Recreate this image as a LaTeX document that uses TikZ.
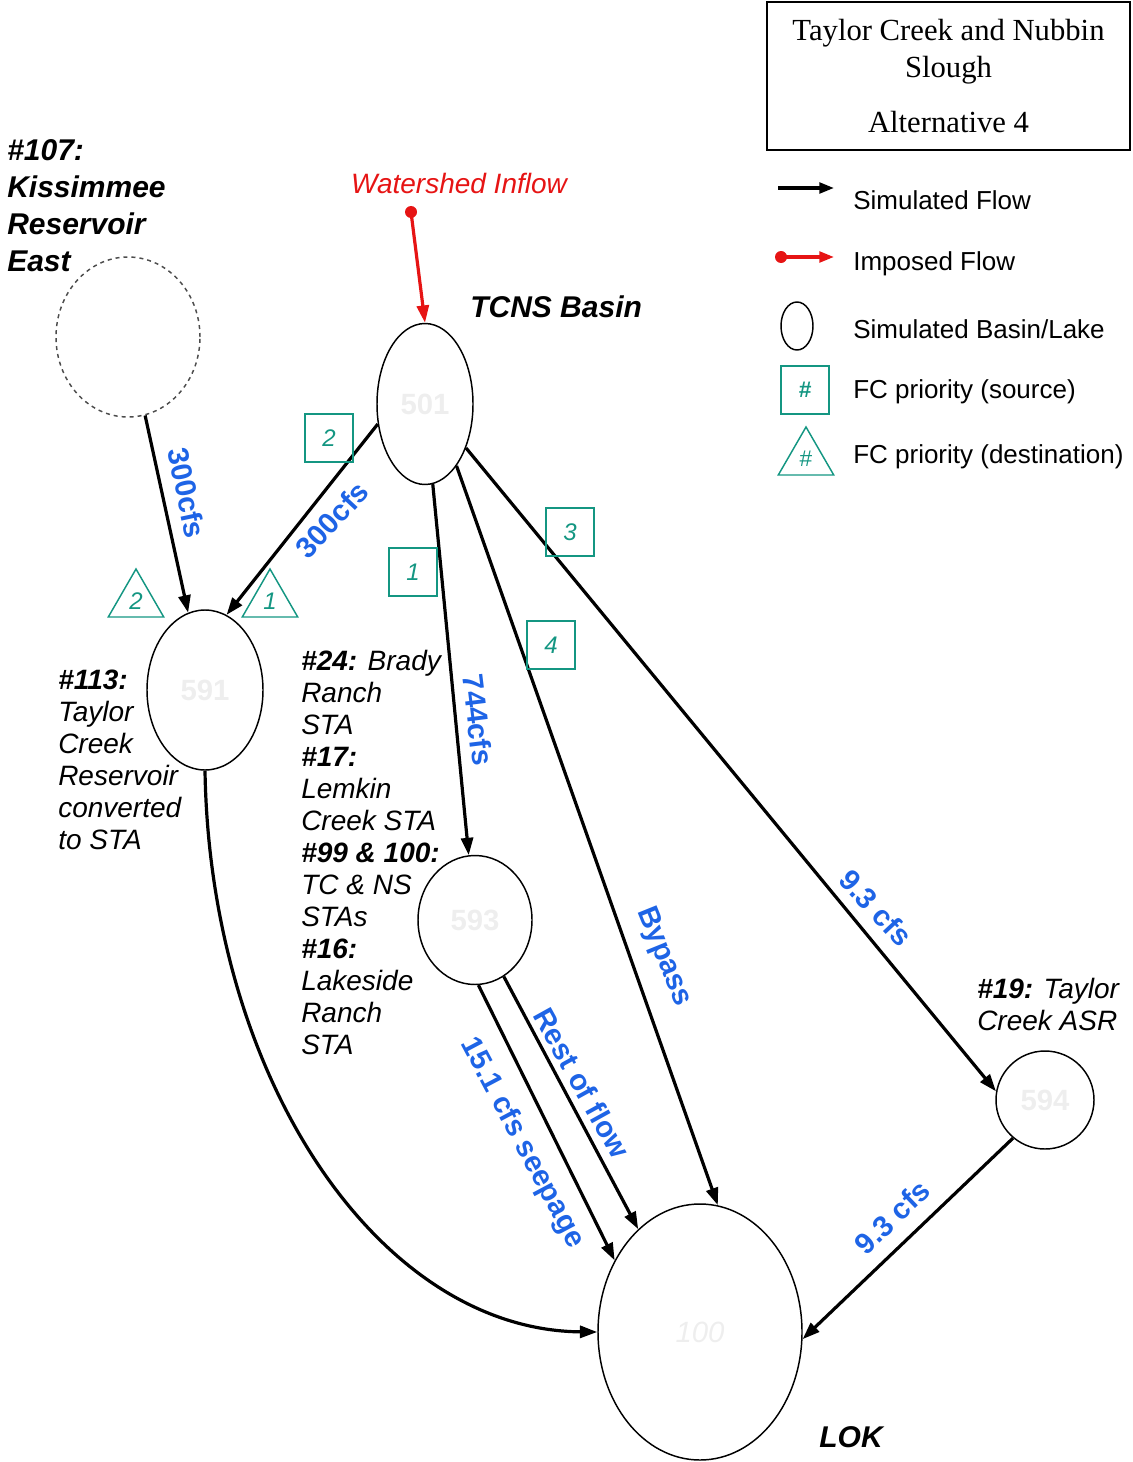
\documentclass[tikz,border=0pt]{standalone}
\usepackage{fontspec}
\setmainfont{Liberation Sans}
\newfontfamily\titlefont{Liberation Serif}
\usetikzlibrary{arrows.meta,shapes.geometric}
\definecolor{flowblue}{RGB}{30,100,230}
\definecolor{fcteal}{RGB}{20,150,130}
\definecolor{inred}{RGB}{230,20,20}
\definecolor{idgray}{RGB}{238,238,238}

\begin{document}
\begin{tikzpicture}[x=0.75pt, y=-0.75pt,
  basin/.style={draw, ellipse, line width=1.1pt, inner sep=0pt, font=\fontsize{22}{22}\selectfont\bfseries, text=idgray},
  flow/.style={line width=2.4pt, -{Triangle[length=13pt,width=9pt]}},
  imposed/.style={flow, draw=inred, fill=inred},
  inflowdot/.style={circle, fill=inred, minimum size=7pt, inner sep=0pt},
  flowlbl/.style={font=\fontsize{22}{22}\selectfont\bfseries, text=flowblue, inner sep=1pt},
  fcsrc/.style={draw=fcteal, line width=1.1pt, minimum size=36pt, inner sep=0pt, font=\fontsize{18}{18}\selectfont\itshape, text=fcteal},
  fcdst/.style={draw=fcteal, regular polygon, regular polygon sides=3, line width=1.1pt, minimum size=48pt, inner sep=0pt, font=\fontsize{18}{18}\selectfont\itshape, text=fcteal},
  site/.style={font=\fontsize{21}{24}\selectfont\itshape, align=left, anchor=north west, inner sep=0pt},
  legtxt/.style={font=\fontsize{19.5}{19.5}\selectfont, anchor=west, inner sep=0pt}]
  \useasboundingbox (0,0) rectangle (1132,1462);

  % title and legend
  \node[draw, line width=1pt, minimum width=272.25pt, minimum height=111pt, align=center,
        font=\titlefont\fontsize{23}{27.75}\selectfont] (title) at (948.5,76)
        {Taylor Creek and Nubbin\\Slough\\[14pt]Alternative 4};
  \coordinate (lgfa) at (778,188); \coordinate (lgfb) at (834,188);
  \draw[line width=2.4pt, -{Triangle[length=11pt,width=8pt]}] (lgfa) -- (lgfb);
  \node[inflowdot, minimum size=9pt] (lgia) at (781,257) {};
  \coordinate (lgib) at (834,257);
  \draw[line width=2.4pt, draw=inred, fill=inred, -{Triangle[length=11pt,width=8pt]}] (lgia.center) -- (lgib);
  \node[basin, minimum width=24pt, minimum height=36pt] (lgbasin) at (797,326) {};
  \node[fcsrc, font=\fontsize{17}{17}\selectfont\bfseries\itshape] (lgsrc) at (805,390) {\#};
  \node[fcdst, font=\fontsize{17}{17}\selectfont] (lgdst) at (806,459) {\#};
  \node[legtxt] at (853,200) {Simulated Flow};
  \node[legtxt] at (853,264) {Imposed Flow};
  \node[legtxt] at (853,329) {Simulated Basin/Lake};
  \node[legtxt] at (853,392) {FC priority (source)};
  \node[legtxt] at (853,457) {FC priority (destination)};

  % basins
  \node[basin, dashed, draw=black!70, minimum width=108pt, minimum height=120pt] (kre) at (128,337) {};
  \node[basin, minimum width=72pt, minimum height=120.75pt] (tcns) at (425,404) {501};
  \node[basin, minimum width=87pt, minimum height=120pt] (tcr) at (205,690) {591};
  \node[basin, minimum width=85.5pt, minimum height=96.75pt] (sta) at (475,920) {593};
  \node[basin, minimum width=73.5pt, minimum height=73.5pt] (asr) at (1045,1100) {594};
  \node[basin, minimum width=153pt, minimum height=192pt, font=\fontsize{22}{22}\selectfont\itshape] (lok) at (700,1332) {100};

  % basin labels
  \node[site, font=\fontsize{22.5}{27.75}\selectfont\bfseries\itshape] at (7,139) {\#107:\\Kissimmee\\Reservoir\\East};
  \node[font=\fontsize{22.5}{22.5}\selectfont\bfseries\itshape, anchor=west, inner sep=0pt] at (470,307) {TCNS Basin};
  \node[site] at (58,670) {\textbf{\#113:}\\Taylor\\Creek\\Reservoir\\converted\\to STA};
  \node[site] at (301,650) {\textbf{\#24:} Brady\\Ranch\\STA\\\textbf{\#17:}\\Lemkin\\Creek STA\\\textbf{\#99 \& 100:}\\TC \& NS\\STAs\\\textbf{\#16:}\\Lakeside\\Ranch\\STA};
  \node[site] at (977,978) {\textbf{\#19:} Taylor\\Creek ASR};
  \node[font=\fontsize{22.5}{22.5}\selectfont\bfseries\itshape] at (851,1437) {LOK};
  \node[font=\fontsize{21}{21}\selectfont\itshape, text=inred] at (459,183) {Watershed Inflow};

  % flows
  \node[inflowdot, minimum size=9pt] (inflow) at (411,212) {};
  \draw[imposed] (inflow.center) -- (tcns.north);
  \draw[flow] (kre) -- (tcr);
  \draw[flow] (tcns.203) -- (tcr.74);
  \draw[flow] (tcns) -- (sta);
  \draw[flow] (tcns.-63) -- (lok.82);
  \draw[flow] (tcns.-47) -- (asr.170);
  \draw[flow] (sta.-87) -- (lok.140);
  \draw[flow] (sta.-63) -- (lok.121);
  \draw[flow] (asr.230) -- (lok.-4);
  \draw[flow] (tcr.south) .. controls (210,1080) and (380,1330) .. (lok.west);

  % flow labels
  \node[flowlbl, rotate=-78] at (187,493) {300cfs};
  \node[flowlbl, rotate=47] at (332,520) {300cfs};
  \node[flowlbl, rotate=-83] at (478,720) {744cfs};
  \node[flowlbl, rotate=-68] at (664,957) {Bypass};
  \node[flowlbl, rotate=-47] at (876,908) {9.3 cfs};
  \node[flowlbl, rotate=-62] at (522,1143) {15.1 cfs seepage};
  \node[flowlbl, rotate=-61] at (582,1083) {Rest of flow};
  \node[flowlbl, rotate=44] at (892,1217) {9.3 cfs};

  % FC priorities
  \foreach \n/\t/\x/\y in {s2/2/329/438, s1/1/413/572, s3/3/570/532, s4/4/551/645}
    \node[fcsrc] (\n) at (\x,\y) {\t};
  \foreach \n/\t/\x in {d2/2/136, d1/1/270}
    \node[fcdst] (\n) at (\x,601) {\t};
\end{tikzpicture}
\end{document}
